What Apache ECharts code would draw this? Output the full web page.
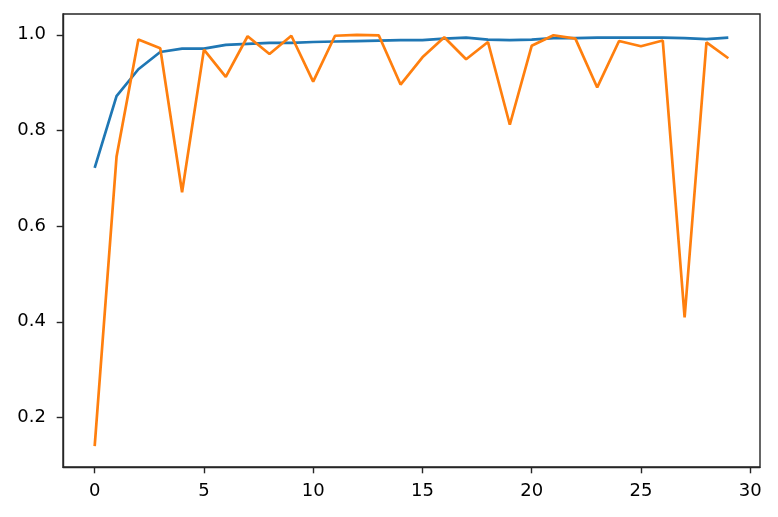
<!DOCTYPE html>
<html>
<head>
<meta charset="utf-8">
<script src="https://cdn.jsdelivr.net/npm/echarts@6/dist/echarts.min.js"></script>
<style>
html,body{margin:0;padding:0;background:#fff;}
#chart{width:778px;height:517px;}
</style>
</head>
<body>
<div id="chart"></div>
<script>
const epochs = Array.from({length: 30}, (_, i) => i);
const trainAcc = [0.722, 0.872, 0.928, 0.964, 0.971, 0.971, 0.979, 0.981, 0.983, 0.983,
                  0.985, 0.986, 0.987, 0.988, 0.989, 0.989, 0.992, 0.994, 0.990, 0.989,
                  0.990, 0.993, 0.993, 0.994, 0.994, 0.994, 0.994, 0.993, 0.991, 0.994];
const valAcc = [0.140, 0.745, 0.990, 0.972, 0.671, 0.969, 0.912, 0.997, 0.960, 0.998,
                0.902, 0.998, 1.000, 0.999, 0.896, 0.953, 0.995, 0.949, 0.985, 0.812,
                0.977, 0.999, 0.992, 0.890, 0.987, 0.976, 0.988, 0.409, 0.984, 0.951];
const xTicks = [0, 5, 10, 15, 20, 25, 30];
const yTicks = [0.2, 0.4, 0.6, 0.8, 1.0];

const chart = echarts.init(document.getElementById('chart'), null, {renderer: 'canvas'});
const font = {fontFamily: 'DejaVu Sans', fontSize: 18, color: '#000'};
const axisCommon = {
  axisLine: {show: true, onZero: false, lineStyle: {color: '#262626', width: 1.4}},
  axisTick: {show: true, length: 6.3, lineStyle: {color: '#262626', width: 1.4}},
  splitLine: {show: false}
};
chart.setOption({
  animation: false,
  backgroundColor: '#fff',
  grid: {left: 63, right: 18, top: 14, bottom: 50, show: true, borderColor: '#262626', borderWidth: 1.4, backgroundColor: 'transparent'},
  xAxis: Object.assign({}, axisCommon, {
    type: 'value', min: -1.45, max: 30.45,
    axisTick: Object.assign({}, axisCommon.axisTick, {customValues: xTicks}),
    axisLabel: Object.assign({}, font, {customValues: xTicks, margin: 15, formatter: v => String(v)})
  }),
  yAxis: Object.assign({}, axisCommon, {
    type: 'value', min: 0.0965, max: 1.0435,
    axisTick: Object.assign({}, axisCommon.axisTick, {customValues: yTicks}),
    axisLabel: Object.assign({}, font, {customValues: yTicks, margin: 17, formatter: v => v.toFixed(1)})
  }),
  series: [
    {type: 'line', data: epochs.map((e, i) => [e, trainAcc[i]]), symbol: 'none',
     lineStyle: {color: '#1f77b4', width: 2.7}, itemStyle: {color: '#1f77b4'}},
    {type: 'line', data: epochs.map((e, i) => [e, valAcc[i]]), symbol: 'none',
     lineStyle: {color: '#ff7f0e', width: 2.7}, itemStyle: {color: '#ff7f0e'}}
  ]
});
</script>
</body>
</html>
